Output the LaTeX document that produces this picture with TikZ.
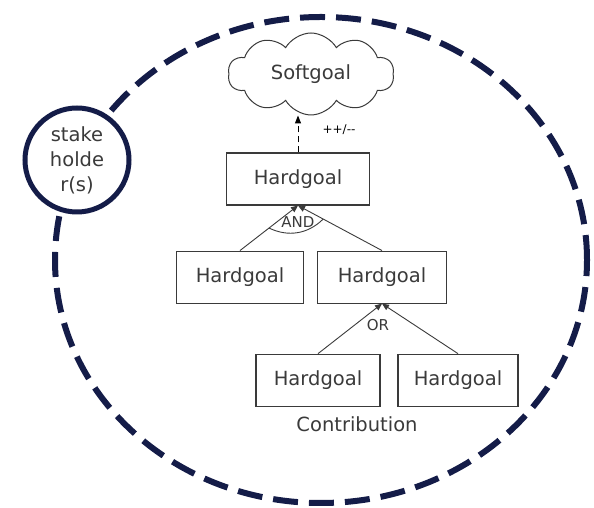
\documentclass[tikz,border=0pt]{standalone}
\usepackage{fontspec}
\setmainfont{DejaVu Sans}
\usepackage{tikz}
\usetikzlibrary{positioning}
\usetikzlibrary{shapes.symbols,arrows.meta,calc}
\definecolor{navy}{HTML}{141C48}
\definecolor{inkgray}{HTML}{3A3A3A}
\newcommand{\goalfont}{\fontsize{19.5}{25}\selectfont}
\newcommand{\tagfont}{\fontsize{15}{16}\selectfont}
\tikzstyle{goal box}=[draw=inkgray,line width=1.1pt,minimum height=52pt,font=\goalfont,text=inkgray]
\tikzstyle{soft goal}=[cloud,cloud ignores aspect,draw=inkgray,line width=1pt,fill=white,cloud puffs=10,cloud puff arc=120,minimum width=166pt,minimum height=82pt,inner sep=0pt,font=\goalfont,text=inkgray]
\tikzstyle{actor}=[circle,draw=navy,line width=5pt,fill=white,minimum size=104pt,inner sep=0pt,align=center,font=\goalfont,text=inkgray]
\tikzstyle{boundary}=[draw=navy,line width=6pt,dash pattern=on 25pt off 11pt]
\tikzstyle{decomp edge}=[-{Triangle[length=7pt,width=6pt]},draw=inkgray,line width=0.9pt]
\tikzstyle{contrib edge}=[-{Triangle[length=8pt,width=6pt]},draw=black,line width=1pt,dash pattern=on 6pt off 4pt]
\newcommand{\goalnode}[3][]{
  \node [goal box, #1] (#2) {#3}
}

\begin{document}
\begin{tikzpicture}[x=1pt,y=1pt]
        \useasboundingbox (0,0) rectangle (594,508);
        \draw[boundary] (321,248) ellipse [x radius=266, y radius=243];
        \node[actor] (actor) at (77,348) {stake\\holde\\r(s)};

        \node[soft goal] (sg) at (311,434) {Softgoal};
        \goalnode[minimum width=143pt, at={(298,329)}]{hg}{Hardgoal};
                \goalnode[minimum width=127pt, below=45pt of hg, xshift=-58pt]{lh}{Hardgoal};
                \goalnode[minimum width=129pt, below=45pt of hg, xshift=84pt]{rh}{Hardgoal};
                        \goalnode[minimum width=124pt, below=50pt of rh, xshift=-64pt]{bl}{Hardgoal};
                        \goalnode[minimum width=120pt, below=50pt of rh, xshift=76pt]{br}{Hardgoal};

        \draw[contrib edge] (hg.north) -- (hg.north |- sg.south);
        \node[font=\fontsize{12}{13}\selectfont, text=black] (pm) at (339,378) {++/-\kern0pt-};

            \draw[decomp edge] (lh.north) -- (hg.south);
            \draw[decomp edge] (rh.north) -- (hg.south);
            \draw[draw=inkgray, line width=0.9pt] ($(hg.south)!0.5!(lh.north)$) to[bend right=35] ($(hg.south)!0.3!(rh.north)$);
            \node[font=\tagfont, text=inkgray] (and) at (298,286) {AND};

            \draw[decomp edge] (bl.north) -- (rh.south);
            \draw[decomp edge] (br.north) -- (rh.south);
            \node[font=\tagfont, text=inkgray] (or) at (378,183) {OR};

        \node[font=\goalfont, text=inkgray] (contrib) at (357,84) {Contribution};
\end{tikzpicture}
\end{document}
